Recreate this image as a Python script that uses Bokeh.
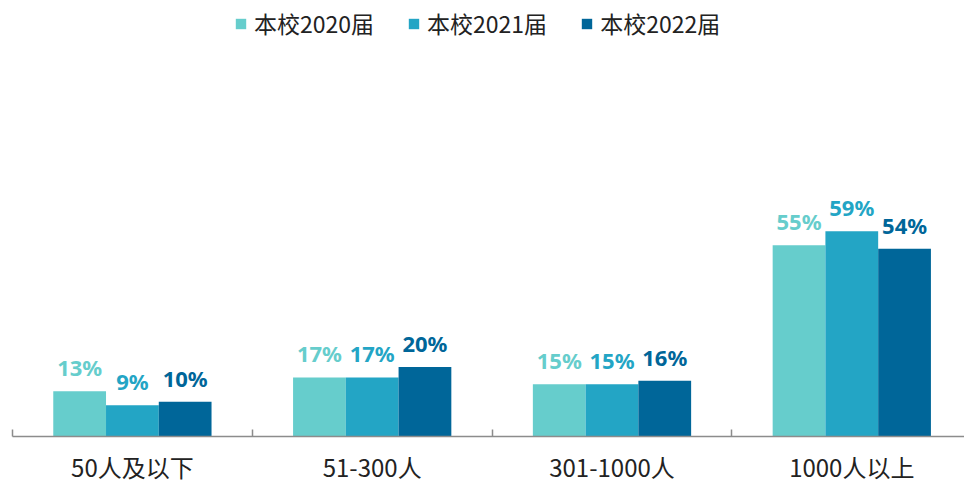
from bokeh.plotting import figure
from bokeh.models import Range1d, FixedTicker, ColumnDataSource, Legend, LegendItem
from bokeh.core.properties import value
from bokeh.embed import file_html
from bokeh.resources import INLINE

categories = ["50人及以下", "51-300人", "301-1000人", "1000人以上"]
series_names = ["本校2020届", "本校2021届", "本校2022届"]
v2020 = [13, 17, 15, 55]
v2021 = [9, 17, 15, 59]
v2022 = [10, 20, 16, 54]

colors = ["#66CDCC", "#23A5C5", "#006699"]
offsets = [-0.22, 0.0, 0.22]
bar_w = 0.22

p = figure(width=964, height=486, output_backend="svg", toolbar_location=None,
           x_range=Range1d(0, 3.97), y_range=Range1d(0, 125.4),
           min_border_left=12, min_border_right=0, min_border_top=0, min_border_bottom=0)
p.outline_line_color = None
p.background_fill_color = None
p.border_fill_color = None
p.xgrid.visible = False
p.ygrid.visible = False
p.yaxis.visible = False

centers = [i + 0.5 for i in range(len(categories))]
ax = p.xaxis[0]
ax.ticker = FixedTicker(ticks=centers, minor_ticks=list(range(len(categories) + 1)))
ax.major_label_overrides = {c: lab for c, lab in zip(centers, categories)}
ax.major_tick_in = 0
ax.major_tick_out = 0
ax.minor_tick_in = 7
ax.minor_tick_out = 0
ax.minor_tick_line_color = "#8c8c8c"
ax.minor_tick_line_width = 1.5
ax.axis_line_color = "#8c8c8c"
ax.axis_line_width = 1.5
ax.major_label_text_font = "Noto Sans CJK SC"
ax.major_label_text_font_size = "24px"
ax.major_label_text_color = "#222222"
ax.major_label_standoff = 12

items = []
for vals, name, col, off in zip([v2020, v2021, v2022], series_names, colors, offsets):
    src = ColumnDataSource(dict(
        x=[c + off for c in centers],
        top=vals,
        lab=[f"{v}%" for v in vals],
    ))
    r = p.vbar(x="x", top="top", width=bar_w, bottom=0, source=src,
               fill_color=col, line_color=None)
    p.text(x="x", y="top", text="lab", source=src, text_align="center",
           text_baseline="bottom", y_offset=-9, text_color=col,
           text_font=value("Noto Sans"), text_font_style="bold",
           text_font_size="22px")
    items.append(LegendItem(label=name, renderers=[r]))

legend = Legend(items=items, orientation="horizontal", location=(222, 396),
                glyph_width=13, glyph_height=13, label_standoff=7, spacing=33,
                label_text_font="Noto Sans CJK SC", label_text_font_size="23px",
                label_text_color="#222222", border_line_color=None,
                background_fill_alpha=0, padding=0, margin=0)
p.add_layout(legend, "center")

open("out.html", "w").write(file_html(p, INLINE))
